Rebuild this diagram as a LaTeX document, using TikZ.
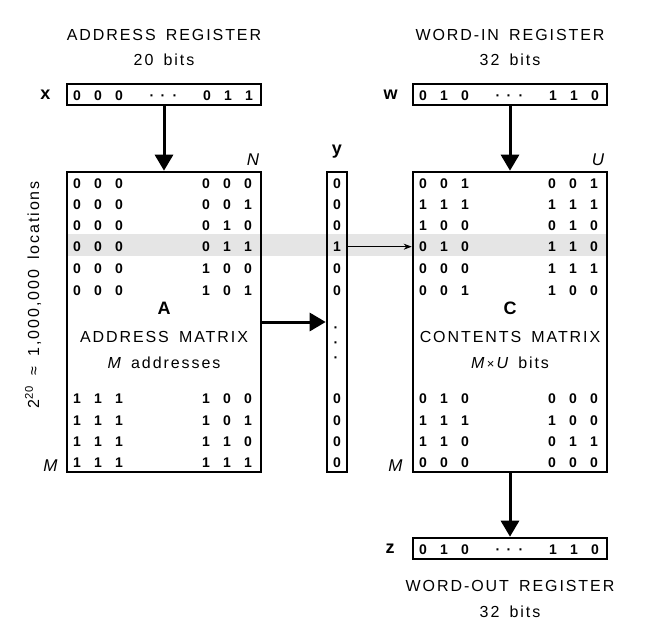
\documentclass[tikz,border=0pt]{standalone}
\usepackage{fontspec}
\setmainfont{Liberation Sans}
\newfontfamily\spaced{Liberation Sans}[LetterSpace=12, WordSpace=1.6]
\usetikzlibrary{arrows.meta,positioning}

\tikzset{
  reg/.style={draw, line width=2.6pt, minimum width=194pt, minimum height=21pt, inner sep=0pt},
  mat/.style={draw, line width=2.6pt, minimum width=194pt, minimum height=300pt, inner sep=0pt},
  col/.style={draw, line width=2.6pt, minimum width=20pt, minimum height=300pt, inner sep=0pt},
  bit/.style={inner sep=0pt, anchor=base, font=\bfseries\fontsize{14}{16}\selectfont},
  regname/.style={inner sep=0pt, font=\bfseries\fontsize{18}{20}\selectfont},
  dimlabel/.style={inner sep=0pt, font=\itshape\fontsize{17}{19}\selectfont},
  matname/.style={inner sep=0pt, font=\bfseries\fontsize{18}{20}\selectfont},
  heading/.style={inner sep=0pt, font=\spaced\fontsize{16}{19}\selectfont},
  bigarrow/.style={-{Triangle[length=16pt,width=18pt]}, line width=3pt},
  thinarrow/.style={-{Stealth[length=8pt,width=6pt]}, line width=0.9pt}
}

\begin{document}
\begin{tikzpicture}[x=1pt, y=-1pt]
\useasboundingbox (0,0) rectangle (646,635);
% selected location
\fill[gray!20] (67,234) rectangle (607,256);

\node[reg] (addr) at (164,94.5) {};
\node[reg] (wordin) at (510,94.5) {};
\node[reg] (wordout) at (510,548.5) {};
\node[mat] (amat) at (164,322) {};
\node[col] (ybar) at (337,322) {};
\node[mat] (cmat) at (510,322) {};

% register titles
\node[heading, above=17pt of addr] (addrbits) {20 bits};
\node[heading, above=13pt of addrbits] (addrtitle) {ADDRESS REGISTER};
\node[heading, above=17pt of wordin] (wordinbits) {32 bits};
\node[heading, above=13pt of wordinbits] (wordintitle) {WORD-IN REGISTER};
\node[heading, below=20pt of wordout] (wordouttitle) {WORD-OUT REGISTER};
\node[heading, below=14pt of wordouttitle] (wordoutbits) {32 bits};

\node[regname, left=15pt of addr] (xlab) {x};
\node[regname, left=14pt of wordin] (wlab) {w};
\node[regname, left=17pt of wordout] (zlab) {z};
\node[regname, above=12pt of ybar] (ylab) {y};

% register contents
\foreach \p/\left/\y/\bits in {x/67/100/{0,0,0,0,1,1}, w/413/100/{0,1,0,1,1,0}, z/413/554/{0,1,0,1,1,0}} {
  \foreach \b [count=\j from 0] in \bits {
    \pgfmathsetmacro\dx{{10,31,52,140,161,182}[\j]}
    \node[bit] (\p\j) at (\left+\dx,\y) {\b};
  }
  \foreach \dx [count=\k] in {85,96,108}
    \node[bit] (\p dot\k) at (\left+\dx,\y) {·};
}

% address matrix
\foreach \y/\row [count=\i] in {188/{0,0,0,0,0,0}, 209/{0,0,0,0,0,1}, 230.5/{0,0,0,0,1,0}, 251.5/{0,0,0,0,1,1},
    273.5/{0,0,0,1,0,0}, 295/{0,0,0,1,0,1}, 403/{1,1,1,1,0,0}, 425/{1,1,1,1,0,1}, 446/{1,1,1,1,1,0}, 467/{1,1,1,1,1,1}}
  \foreach \b [count=\j from 0] in \row {
    \pgfmathsetmacro\dx{{10,31,52,139,160,181}[\j]}
    \node[bit] (a\i-\j) at (67+\dx,\y) {\b};
  }

% contents matrix
\foreach \y/\row [count=\i] in {188/{0,0,1,0,0,1}, 209/{1,1,1,1,1,1}, 230.5/{1,0,0,0,1,0}, 251.5/{0,1,0,1,1,0},
    273.5/{0,0,0,1,1,1}, 295/{0,0,1,1,0,0}, 403/{0,1,0,0,0,0}, 425/{1,1,1,1,0,0}, 446/{1,1,0,0,1,1}, 467/{0,0,0,0,0,0}}
  \foreach \b [count=\j from 0] in \row {
    \pgfmathsetmacro\dx{{10,31,52,139,160,181}[\j]}
    \node[bit] (c\i-\j) at (413+\dx,\y) {\b};
  }

% activation vector
\foreach \y/\b [count=\i] in {188/0, 209/0, 230.5/0, 251.5/1, 273.5/0, 295/0, 403/0, 425/0, 446/0, 467/0}
  \node[bit] (y\i) at (337,\y) {\b};
\foreach \y [count=\k] in {332,347,362}
  \node[bit] (ydot\k) at (336,\y) {·};

% matrix captions
\node[matname, anchor=base] (alet) at ([yshift=8pt]amat.center) {A};
\node[heading, anchor=base] (atitle) at ([yshift=-20pt]amat.center) {ADDRESS MATRIX};
\node[heading, anchor=base] (asub) at ([yshift=-46pt]amat.center) {{\itshape M} addresses};
\node[matname, anchor=base] (clet) at ([yshift=8pt]cmat.center) {C};
\node[heading, anchor=base] (ctitle) at ([yshift=-20pt]cmat.center) {CONTENTS MATRIX};
\node[heading, anchor=base] (csub) at ([yshift=-46pt]cmat.center) {{\itshape M}\kern2.5pt{\fontsize{13}{13}\selectfont ×}\kern2pt{\itshape U} bits};

\node[dimlabel, above left=5pt and 3pt of amat.north east] (alen) {N};
\node[dimlabel, above left=2pt and 8pt of amat.south west] (arows) {M};
\node[dimlabel, above left=5pt and 4pt of cmat.north east] (clen) {U};
\node[dimlabel, above left=2pt and 9pt of cmat.south west] (crows) {M};

\node[heading, rotate=90] (locs) at (33,295) {2\textsuperscript{20} ≈ 1,000,000 locations};

\draw[bigarrow] (addr) -- (amat);
\draw[bigarrow] (amat) -- (ybar);
\draw[thinarrow] (y4 -| ybar.east) -- (y4 -| cmat.west);
\draw[bigarrow] (wordin) -- (cmat);
\draw[bigarrow] (cmat) -- (wordout);
\end{tikzpicture}
\end{document}
